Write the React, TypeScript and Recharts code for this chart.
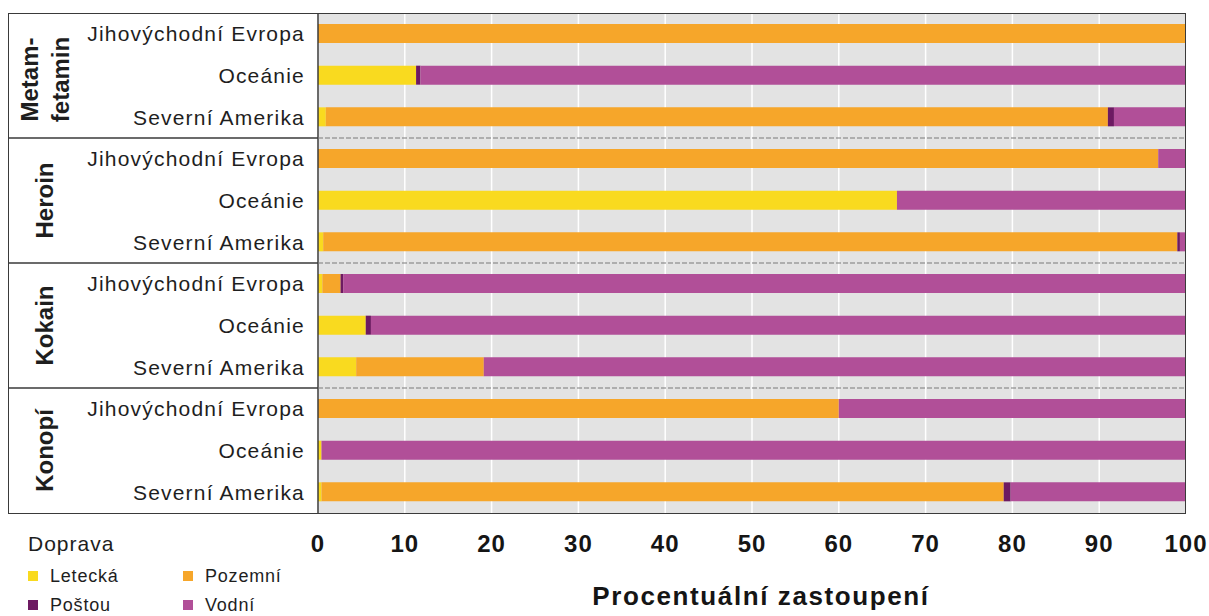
import React from 'react';
import { BarChart, Bar, XAxis, YAxis, CartesianGrid, Label } from 'recharts';

const regions = ['Jihovýchodní Evropa', 'Oceánie', 'Severní Amerika'];
const drugs = ['Metam-\nfetamin', 'Heroin', 'Kokain', 'Konopí'];

// one value per row: drug x region, top to bottom
const letecka = [0, 11.3, 0.9, 0, 66.7, 0.6, 0.5, 5.5, 4.4, 0, 0.4, 0.4];
const pozemni = [100, 0, 90.1, 96.8, 0, 98.4, 2.1, 0, 14.7, 60, 0, 78.6];
const postou = [0, 0.5, 0.7, 0, 0, 0.3, 0.3, 0.6, 0, 0, 0, 0.8];
const vodni = [0, 88.2, 8.3, 3.2, 33.3, 0.7, 97.1, 93.9, 80.9, 40, 99.6, 20.2];

const xTicks = [0, 10, 20, 30, 40, 50, 60, 70, 80, 90, 100];

const series = [
  { key: 'letecka', name: 'Letecká', color: '#F9DA1F' },
  { key: 'pozemni', name: 'Pozemní', color: '#F6A62A' },
  { key: 'postou', name: 'Poštou', color: '#6D1A62' },
  { key: 'vodni', name: 'Vodní', color: '#B14F98' },
];

const rows = drugs.flatMap((drug, d) =>
  regions.map((region, r) => {
    const i = d * 3 + r;
    return {
      id: String(i),
      drug,
      region,
      letecka: letecka[i],
      pozemni: pozemni[i],
      postou: postou[i],
      vodni: vodni[i],
    };
  })
);

const FONT = '"Liberation Sans", Arial, sans-serif';
const PLOT_RIGHT = 1186;

function RowTick(props: any) {
  const { x, y, payload, index } = props;
  const row = rows[Number(payload.value)];
  const half = payload.offset || 500 / 24;
  const isGroupStart = index % 3 === 0 && index > 0;
  const isGroupMid = index % 3 === 1;
  const lines = row.drug.split('\n');
  return (
    <g>
      <text
        x={x - 13}
        y={y}
        dy="0.36em"
        textAnchor="end"
        fontFamily={FONT}
        fontSize={21}
        letterSpacing={1.2}
        fill="#1e1e1e"
      >
        {row.region}
      </text>
      {isGroupStart && (
        <>
          <line x1={8} x2={x} y1={y - half} y2={y - half} stroke="#3a3a3a" strokeWidth={1.5} />
          <line
            x1={x}
            x2={PLOT_RIGHT}
            y1={y - half}
            y2={y - half}
            stroke="#7a7a7a"
            strokeWidth={1.2}
            strokeDasharray="5 2"
          />
        </>
      )}
      {isGroupMid &&
        lines.map((ln: string, k: number) => {
          const cx = lines.length === 1 ? 44 : k === 0 ? 29 : 60;
          const cy = y + (lines.length === 1 ? 0 : 4);
          return (
            <text
              key={k}
              x={cx}
              y={cy}
              dy="0.36em"
              textAnchor="middle"
              transform={`rotate(-90 ${cx} ${cy})`}
              fontFamily={FONT}
              fontSize={24}
              fontWeight="bold"
              fill="#1e1e1e"
            >
              {ln}
            </text>
          );
        })}
    </g>
  );
}

function ValueTick(props: any) {
  const { x, y, payload } = props;
  return (
    <text
      x={x}
      y={y}
      dy={39}
      textAnchor="middle"
      fontFamily={FONT}
      fontSize={24}
      fontWeight="bold"
      letterSpacing={1}
      fill="#151515"
    >
      {payload.value}
    </text>
  );
}

export default function App() {
  return (
    <div style={{ position: 'absolute', left: 0, top: 0, width: 1209, height: 616, background: '#fff' }}>
      <BarChart
        width={1209}
        height={616}
        data={rows}
        layout="vertical"
        margin={{ top: 13, right: 23, left: 0, bottom: 73 }}
        barCategoryGap={0}
      >
        <CartesianGrid horizontal={false} stroke="#ffffff" strokeWidth={1.5} fill="#E3E3E3" />
        <XAxis
          type="number"
          domain={[0, 100]}
          ticks={xTicks}
          axisLine={false}
          tickLine={false}
          tickSize={0}
          tickMargin={0}
          height={30}
          tick={<ValueTick />}
        >
          <Label
            value="Procentuální zastoupení"
            position="bottom"
            offset={44}
            dx={9}
            style={{ fontFamily: FONT, fontSize: 26, fontWeight: 'bold', fill: '#151515', letterSpacing: 1.6 }}
          />
        </XAxis>
        <YAxis
          type="category"
          dataKey="id"
          width={318}
          axisLine={{ stroke: '#3a3a3a', strokeWidth: 1.5 }}
          tickLine={false}
          tickSize={0}
          tickMargin={0}
          interval={0}
          tick={<RowTick />}
        />
        {series.map((s) => (
          <Bar
            key={s.key}
            dataKey={s.key}
            name={s.name}
            stackId="a"
            fill={s.color}
            barSize={19}
            isAnimationActive={false}
          />
        ))}
      </BarChart>
      <div
        style={{
          position: 'absolute',
          left: 8,
          top: 13,
          width: 1178,
          height: 501,
          border: '1.5px solid #3a3a3a',
          boxSizing: 'border-box',
          pointerEvents: 'none',
        }}
      />
      <div style={{ position: 'absolute', left: 28, top: 532, fontFamily: FONT, color: '#1e1e1e' }}>
        <div style={{ fontSize: 21, letterSpacing: 1, lineHeight: '24px' }}>Doprava</div>
        <div
          style={{
            display: 'grid',
            gridTemplateColumns: '155px 120px',
            rowGap: 5,
            marginTop: 8,
          }}
        >
          {series.map((s) => (
            <div key={s.key} style={{ display: 'flex', alignItems: 'center', height: 24 }}>
              <span style={{ width: 10, height: 10, background: s.color, display: 'inline-block', marginRight: 12 }} />
              <span style={{ fontSize: 18, letterSpacing: 0.8 }}>{s.name}</span>
            </div>
          ))}
        </div>
      </div>
    </div>
  );
}
